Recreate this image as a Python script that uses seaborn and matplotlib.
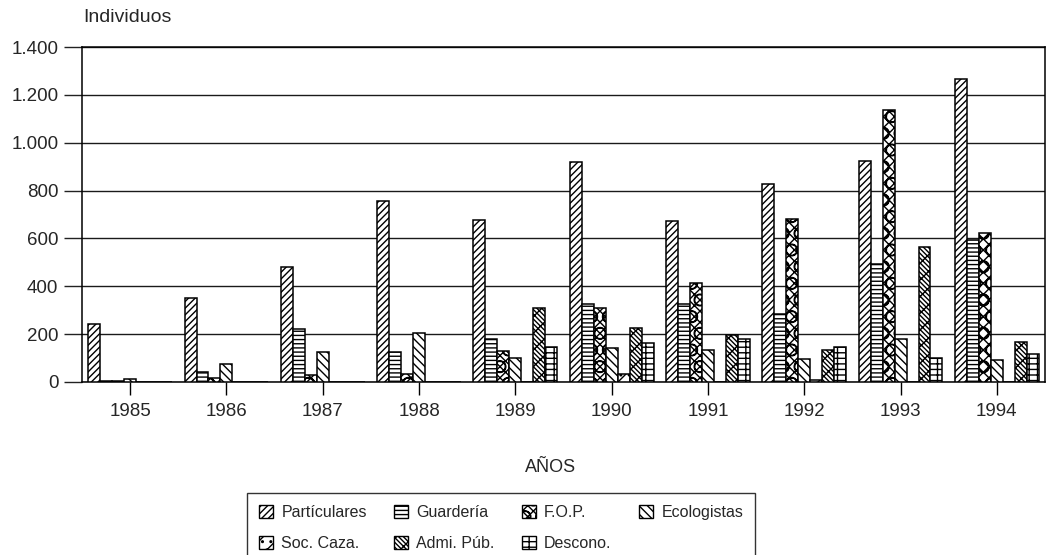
import numpy as np
import pandas as pd
import matplotlib
matplotlib.use("Agg")
import matplotlib.pyplot as plt
import seaborn as sns
from matplotlib.patches import Patch
from matplotlib.ticker import FuncFormatter, FixedLocator

years = ["1985", "1986", "1987", "1988", "1989", "1990", "1991", "1992", "1993", "1994"]
series_names = ["Partículares", "Guardería", "F.O.P.", "Ecologistas",
                "Soc. Caza.", "Admi. Púb.", "Descono."]
particulares = [242, 350, 481, 758, 677, 920, 674, 827, 925, 1266]
guarderia = [5, 40, 222, 125, 180, 326, 326, 284, 493, 593]
fop = [5, 18, 30, 35, 128, 310, 415, 680, 1136, 624]
ecologistas = [12, 75, 127, 206, 102, 142, 134, 98, 180, 91]
soc_caza = [0, 0, 0, 0, 0, 35, 0, 10, 0, 0]
admi_pub = [0, 0, 0, 0, 311, 227, 196, 134, 563, 168]
descono = [0, 0, 0, 0, 145, 162, 178, 146, 99, 115]
yticks = [0, 200, 400, 600, 800, 1000, 1200, 1400]

values = [particulares, guarderia, fop, ecologistas, soc_caza, admi_pub, descono]
hatches = ["/////", "----", "Oxxx", "\\\\\\\\", "//..", "\\\\\\\\\\xx", "++-"]

rows = []
for name, vals in zip(series_names, values):
    for yr, v in zip(years, vals):
        rows.append({"Año": yr, "Fuente": name, "Individuos": v})
df = pd.DataFrame(rows)

sns.set_style("white")
plt.rcParams["font.family"] = ["Liberation Sans", "DejaVu Sans"]
plt.rcParams["hatch.linewidth"] = 1.0
plt.rcParams["hatch.color"] = "black"

fig = plt.figure(figsize=(10.53, 5.55), dpi=100)
ax = fig.add_axes([82 / 1053, 1 - 382 / 555, (1045 - 82) / 1053, (382 - 47) / 555])

sns.barplot(data=df, x="Año", y="Individuos", hue="Fuente", hue_order=series_names,
            order=years, palette=["white"] * 7, saturation=1, edgecolor="black",
            linewidth=1.1, width=0.87, legend=False, ax=ax, zorder=3)

for cont, h in zip(ax.containers, hatches):
    for bar in cont:
        bar.set_hatch(h)
        bar.set_edgecolor("black")

ax.set_ylim(0, 1400)
ax.yaxis.set_major_locator(FixedLocator(yticks))
ax.yaxis.set_major_formatter(FuncFormatter(lambda v, p: f"{int(v):,}".replace(",", ".")))
ax.grid(axis="y", color="#1a1a1a", linewidth=1.0, zorder=0)
ax.set_axisbelow(True)
for s in ax.spines.values():
    s.set_color("black")
    s.set_linewidth(1.1)

ax.tick_params(axis="y", direction="out", length=13, width=1, labelsize=13.5, pad=4, left=True, color="#222222")
ax.tick_params(axis="x", direction="out", length=9, width=1, labelsize=13.5, pad=6, bottom=True, color="black")
ax.set_ylabel("")
ax.set_xlabel("")
fig.text(551 / 1053, 1 - 467 / 555, "AÑOS", fontsize=13, ha="center", va="center")
fig.text(83 / 1053, 1 - 18 / 555, "Individuos", fontsize=14, ha="left", va="center")

handles = [Patch(facecolor="white", edgecolor="black", hatch=h, linewidth=1.0) for h in hatches]
order = [0, 4, 1, 5, 2, 6, 3]
leg = fig.legend([handles[i] for i in order], [series_names[i] for i in order],
                 ncol=4, loc="upper left", bbox_to_anchor=(247 / 1053, 1 - 493 / 555),
                 borderaxespad=0, frameon=True, fancybox=False, edgecolor="black",
                 fontsize=11.5,
                 handlelength=0.9, handleheight=0.8, handletextpad=0.5,
                 columnspacing=1.7, borderpad=0.75, labelspacing=1.0)
leg.get_frame().set_linewidth(1.0)

fig.savefig("out.png", dpi=100)
